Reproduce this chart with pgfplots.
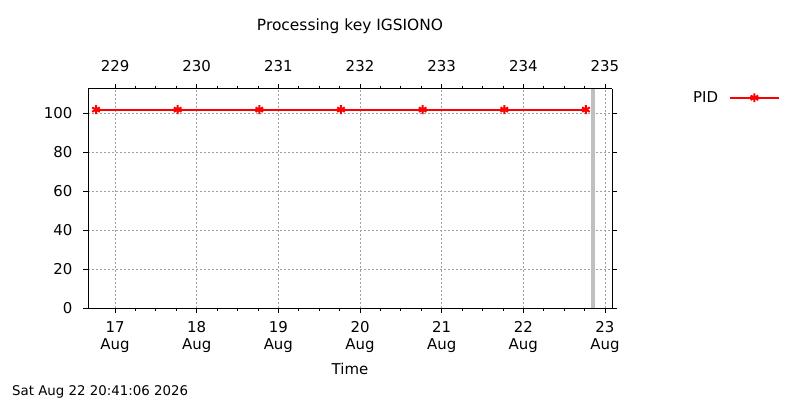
\documentclass[border=0pt]{standalone}
\usepackage{fontspec}
\setmainfont{DejaVu Sans}
\usepackage{pgfplots}
\pgfplotsset{compat=1.18}

\definecolor{barGray}{HTML}{C0C0C0}
\definecolor{gridGray}{HTML}{A0A0A0}

\begin{document}
\begin{tikzpicture}[x=1bp,y=1bp]
    \useasboundingbox[fill=white] (0,0) rectangle (800,400);

    % top axis: day of year
    \begin{axis}[
        at={(88bp,92bp)}, anchor=south west,
        scale only axis, width=524bp, height=219bp,
        xmin=16.669, xmax=23.086, ymin=0, ymax=112.6,
        axis x line*=top, axis y line=none,
        xtick={17,18,19,20,21,22,23},
        xticklabels={229,230,231,232,233,234,235},
        minor x tick num=3,
        tick align=outside,
        major tick length=5bp, minor tick length=3bp,
        tick style={black, line width=0.8bp},
        axis line style={black, line width=1bp},
        ticklabel style={font=\fontsize{15}{17}\selectfont},
        xticklabel shift=9bp,
        /pgf/number format/assume math mode=true,
    ]
        \addplot[draw=none] coordinates {(17,0)};
    \end{axis}

    \begin{axis}[
        at={(88bp,92bp)}, anchor=south west,
        scale only axis, width=524bp, height=219bp,
        xmin=16.669, xmax=23.086, ymin=0, ymax=112.6,
        axis x line*=bottom, axis y line*=box,
        xtick={17,18,19,20,21,22,23},
        xticklabels={17\\Aug,18\\Aug,19\\Aug,20\\Aug,21\\Aug,22\\Aug,23\\Aug},
        xticklabel style={align=center, font=\fontsize{15}{17}\selectfont},
        minor x tick num=3,
        ytick={0,20,40,60,80,100},
        yticklabel style={font=\fontsize{15}{17}\selectfont},
        yticklabel shift=7bp,
        xticklabel shift=5bp,
        tick align=outside,
        major tick length=5bp, minor tick length=3bp,
        tick style={black, line width=0.8bp},
        axis line style={black, line width=1bp},
        grid=major,
        major grid style={gridGray, line width=0.6bp, dash pattern=on 2bp off 2bp},
        xlabel={Time},
        xlabel style={font=\fontsize{15}{17}\selectfont, yshift=-4bp},
        title={Processing key IGSIONO},
        title style={font=\fontsize{15.5}{18}\selectfont, at={(0.5,1)}, anchor=south, yshift=46bp},
        legend style={draw=none, fill=none, at={(1.3206,0.96)}, anchor=east,
            font=\fontsize{15}{17}\selectfont, inner sep=0pt,
            legend cell align=right,
            /tikz/every odd column/.append style={column sep=9bp}},
        legend plot pos=right,
        legend image code/.code={%
            \draw[mark repeat=2, mark phase=2, #1]
            plot coordinates {(0bp,0bp) (24.5bp,0bp) (49bp,0bp)};},
        /pgf/number format/assume math mode=true,
        clip=false,
    ]
        \addplot[barGray, line width=4.5bp, forget plot] coordinates {(22.852,0) (22.852,112.6)};
        \addplot[draw=red, color=red, solid, line width=1.8bp, mark=asterisk, mark size=4.4bp,
            mark options={solid, draw=red, line width=2bp}] coordinates {
            (16.767,102) (17.767,102) (18.767,102) (19.767,102)
            (20.767,102) (21.767,102) (22.767,102)
        };
        \addlegendentry{PID}
    \end{axis}

    \node[anchor=west, font=\fontsize{13.4}{15}\selectfont, inner sep=0pt] at (12,8) {Sat Aug 22 20:41:06 2026};
\end{tikzpicture}
\end{document}
